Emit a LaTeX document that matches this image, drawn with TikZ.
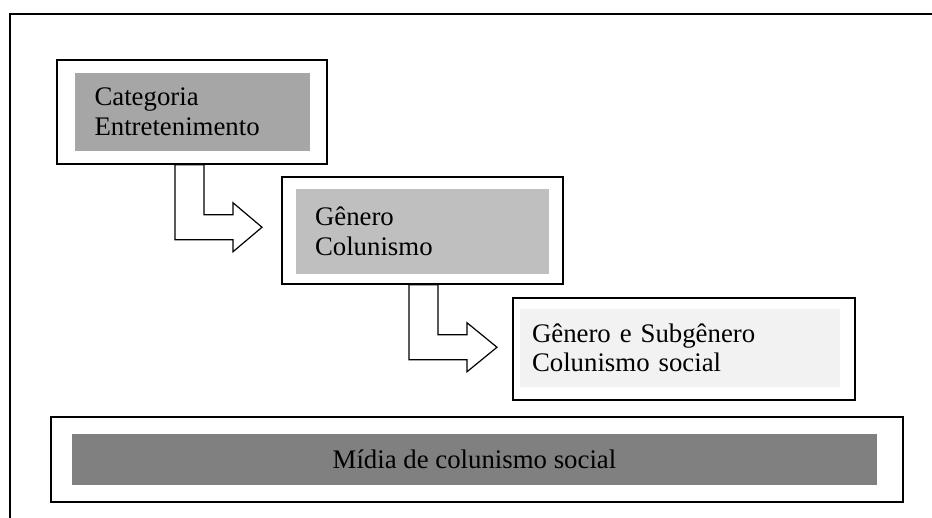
\documentclass[tikz,border=0pt]{standalone}
\usepackage{fontspec}
\setmainfont{Liberation Serif}
\usetikzlibrary{calc}
\definecolor{grayA}{HTML}{A6A6A6}
\definecolor{grayB}{HTML}{BFBFBF}
\definecolor{grayC}{HTML}{F2F2F2}
\definecolor{grayD}{HTML}{808080}
\begin{document}
\begin{tikzpicture}[x=1pt,y=-1pt,
  outerbox/.style={draw,line width=1.5pt,fill=white,inner sep=0pt},
  innerbox/.style={inner sep=0pt,align=left,font=\fontsize{26.8}{29.5}\selectfont},
  bentarrow/.style={draw,line width=1.2pt,fill=white,line join=miter}]
\useasboundingbox (0,0) rectangle (932,518);
% frame
\draw[line width=1.3pt] (932,14) -- (10,14) -- (10,518);
% boxes
\node[outerbox,minimum width=270,minimum height=104] (cat) at (192,112) {};
\node[innerbox,fill=grayA,minimum width=235,minimum height=78,
  text width=196,inner xsep=19.5] (catin) at (192.5,112) {Categoria\\Entretenimento};
\node[outerbox,minimum width=281,minimum height=107] (gen) at (422.5,230.5) {};
\node[innerbox,fill=grayB,minimum width=253,minimum height=85,
  text width=215,inner xsep=19] (genin) at (422.5,231.5) {Gênero\\Colunismo};
\node[outerbox,minimum width=342,minimum height=102] (sub) at (684,349) {};
\node[innerbox,fill=grayC,minimum width=320,minimum height=78,
  text width=296,inner xsep=12] (subin) at (680,348) {Gênero e Subgênero\\Colunismo social};
\node[outerbox,minimum width=852,minimum height=85] (midia) at (477,459.5) {};
\node[innerbox,fill=grayD,minimum width=805,minimum height=51,align=center]
  (midiain) at (474.5,459.5) {Mídia de colunismo social};
% arrows
\draw[bentarrow] ([xshift=-17pt]cat.south) -- ++(0,75) -- ++(58,0) -- ++(0,12)
  -- ++(29,-24.5) -- ++(-29,-24.5) -- ++(0,12) -- ++(-29,0) -- ++(0,-50) -- cycle;
\draw[bentarrow] ([xshift=-13.5pt]gen.south) -- ++(0,75) -- ++(58,0) -- ++(0,12)
  -- ++(30,-24.5) -- ++(-30,-24.5) -- ++(0,12) -- ++(-29,0) -- ++(0,-50) -- cycle;
\end{tikzpicture}
\end{document}
